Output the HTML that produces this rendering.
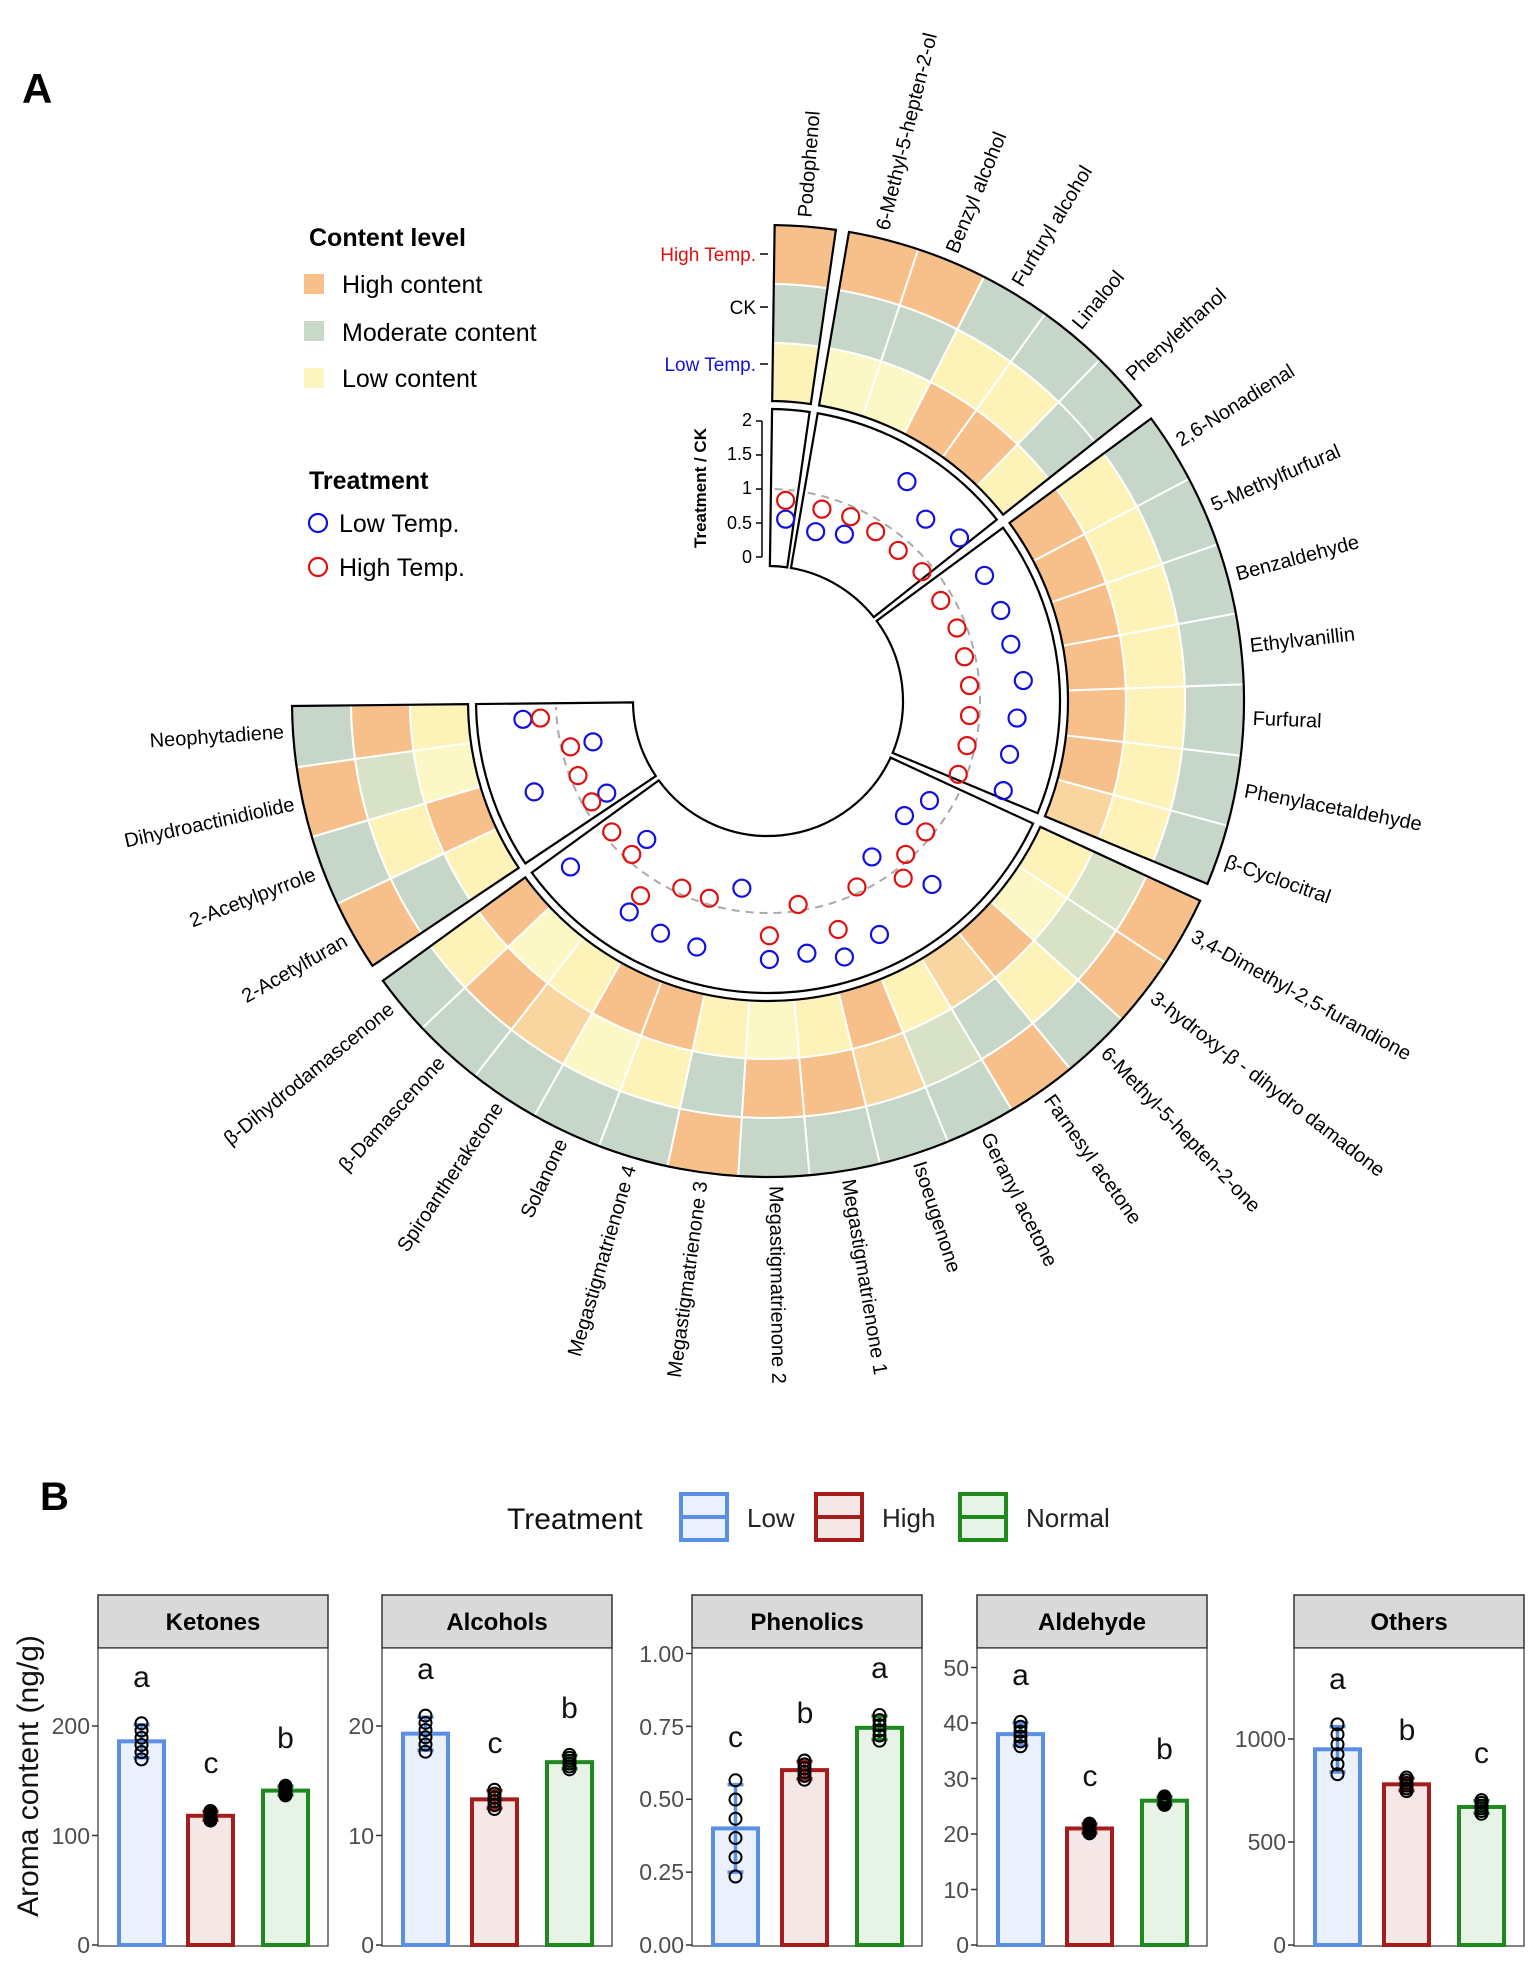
<!DOCTYPE html>
<html><head><meta charset="utf-8"><style>
html,body{margin:0;padding:0;background:#fff;}
svg{display:block;font-family:"Liberation Sans",Arial,sans-serif;}
</style></head><body>
<svg id="s" width="1535" height="1969" viewBox="0 0 1535 1969" xmlns="http://www.w3.org/2000/svg">
<g id="shapes"></g>
<text x="22" y="103" font-size="42" font-weight="bold">A</text>
<text x="309" y="246" font-size="25" font-weight="bold">Content level</text>
<rect x="304" y="274" width="20" height="20" fill="#f7c08a"/>
<rect x="304" y="321" width="20" height="20" fill="#c9d9c9"/>
<rect x="304" y="368" width="20" height="20" fill="#fbf6c0"/>
<text x="342" y="293" font-size="25">High content</text>
<text x="342" y="341" font-size="25">Moderate content</text>
<text x="342" y="387" font-size="25">Low content</text>
<text x="309" y="489" font-size="25" font-weight="bold">Treatment</text>
<circle cx="318" cy="523" r="9" fill="none" stroke="#1010e0" stroke-width="2.2"/>
<circle cx="318" cy="567" r="9" fill="none" stroke="#e01010" stroke-width="2.2"/>
<text x="339" y="532" font-size="25">Low Temp.</text>
<text x="339" y="576" font-size="25">High Temp.</text>
<text x="756" y="261" font-size="19" fill="#e01010" text-anchor="end">High Temp.</text>
<text x="756" y="314" font-size="19" text-anchor="end">CK</text>
<text x="756" y="371" font-size="19" fill="#1010e0" text-anchor="end">Low Temp.</text>
<g font-size="18" text-anchor="end">
<text x="752" y="426">2</text><text x="752" y="460">1.5</text><text x="752" y="494">1</text><text x="752" y="529">0.5</text><text x="752" y="563">0</text>
</g>
<text transform="translate(706,488) rotate(-90)" font-size="17" font-weight="bold" text-anchor="middle">Treatment / CK</text>
<g font-size="20" dominant-baseline="middle">
<text transform="translate(768,701) rotate(-85.5) translate(485,0)">Podophenol</text>
<text transform="translate(768,701) rotate(-76.2) translate(485,0)">6-Methyl-5-hepten-2-ol</text>
<text transform="translate(768,701) rotate(-67.6) translate(485,0)">Benzyl alcohol</text>
<text transform="translate(768,701) rotate(-59) translate(485,0)">Furfuryl alcohol</text>
<text transform="translate(768,701) rotate(-50.4) translate(485,0)">Linalool</text>
<text transform="translate(768,701) rotate(-41.8) translate(485,0)">Phenylethanol</text>
<text transform="translate(768,701) rotate(-32.2) translate(485,0)">2,6-Nonadienal</text>
<text transform="translate(768,701) rotate(-23.6) translate(485,0)">5-Methylfurfural</text>
<text transform="translate(768,701) rotate(-15) translate(485,0)">Benzaldehyde</text>
<text transform="translate(768,701) rotate(-6.4) translate(485,0)">Ethylvanillin</text>
<text transform="translate(768,701) rotate(2.2) translate(485,0)">Furfural</text>
<text transform="translate(768,701) rotate(10.8) translate(485,0)">Phenylacetaldehyde</text>
<text transform="translate(768,701) rotate(19.4) translate(485,0)">β-Cyclocitral</text>
<text transform="translate(768,701) rotate(29) translate(485,0)">3,4-Dimethyl-2,5-furandione</text>
<text transform="translate(768,701) rotate(37.6) translate(485,0)">3-hydroxy-β - dihydro damadone</text>
<text transform="translate(768,701) rotate(46.2) translate(485,0)">6-Methyl-5-hepten-2-one</text>
<text transform="translate(768,701) rotate(54.8) translate(485,0)">Farnesyl acetone</text>
<text transform="translate(768,701) rotate(63.4) translate(485,0)">Geranyl acetone</text>
<text transform="translate(768,701) rotate(72) translate(485,0)">Isoeugenone</text>
<text transform="translate(768,701) rotate(80.6) translate(485,0)">Megastigmatrienone 1</text>
<text transform="translate(768,701) rotate(89.2) translate(485,0)">Megastigmatrienone 2</text>
<text transform="translate(768,701) rotate(-82.2) translate(-485,0)" text-anchor="end">Megastigmatrienone 3</text>
<text transform="translate(768,701) rotate(-73.6) translate(-485,0)" text-anchor="end">Megastigmatrienone 4</text>
<text transform="translate(768,701) rotate(-65) translate(-485,0)" text-anchor="end">Solanone</text>
<text transform="translate(768,701) rotate(-56.4) translate(-485,0)" text-anchor="end">Spiroantheraketone</text>
<text transform="translate(768,701) rotate(-47.8) translate(-485,0)" text-anchor="end">β-Damascenone</text>
<text transform="translate(768,701) rotate(-39.2) translate(-485,0)" text-anchor="end">β-Dihydrodamascenone</text>
<text transform="translate(768,701) rotate(-29.6) translate(-485,0)" text-anchor="end">2-Acetylfuran</text>
<text transform="translate(768,701) rotate(-21) translate(-485,0)" text-anchor="end">2-Acetylpyrrole</text>
<text transform="translate(768,701) rotate(-12.4) translate(-485,0)" text-anchor="end">Dihydroactinidiolide</text>
<text transform="translate(768,701) rotate(-3.8) translate(-485,0)" text-anchor="end">Neophytadiene</text>
</g>
<!-- Panel B -->
<text x="40" y="1510" font-size="40" font-weight="bold">B</text>
<text x="507" y="1529" font-size="30" fill="#111">Treatment</text>
<text x="747" y="1527" font-size="26" fill="#222">Low</text>
<text x="882" y="1527" font-size="26" fill="#222">High</text>
<text x="1026" y="1527" font-size="26" fill="#222">Normal</text>
<g font-size="24" font-weight="bold" text-anchor="middle">
<text x="213" y="1630">Ketones</text><text x="497" y="1630">Alcohols</text><text x="807" y="1630">Phenolics</text><text x="1092" y="1630">Aldehyde</text><text x="1409" y="1630">Others</text>
</g>
<g font-size="23" fill="#4d4d4d" text-anchor="end">
<text x="90" y="1953">0</text><text x="90" y="1844">100</text><text x="90" y="1734">200</text>
<text x="374" y="1953">0</text><text x="374" y="1844">10</text><text x="374" y="1734">20</text>
<text x="684" y="1953">0.00</text><text x="684" y="1880">0.25</text><text x="684" y="1807">0.50</text><text x="684" y="1735">0.75</text><text x="684" y="1662">1.00</text>
<text x="969" y="1953">0</text><text x="969" y="1898">10</text><text x="969" y="1842">20</text><text x="969" y="1787">30</text><text x="969" y="1731">40</text><text x="969" y="1676">50</text>
<text x="1286" y="1953">0</text><text x="1286" y="1850">500</text><text x="1286" y="1747">1000</text>
</g>
<text transform="translate(38,1776) rotate(-90)" font-size="30" fill="#111" text-anchor="middle">Aroma content (ng/g)</text>
<g font-size="30" text-anchor="middle" fill="#111">
<text x="141.5" y="1687">a</text><text x="211" y="1773">c</text><text x="285.5" y="1748">b</text>
<text x="425.5" y="1679">a</text><text x="495" y="1753">c</text><text x="569.5" y="1718">b</text>
<text x="735.5" y="1747">c</text><text x="805" y="1723">b</text><text x="879.5" y="1678">a</text>
<text x="1020.5" y="1685">a</text><text x="1090" y="1786">c</text><text x="1164.5" y="1759">b</text>
<text x="1337.5" y="1689">a</text><text x="1407" y="1740">b</text><text x="1481.5" y="1763">c</text>
</g>
</svg>
<script>
(function(){
var NS="http://www.w3.org/2000/svg",g=document.getElementById("shapes");
function el(t,a){var e=document.createElementNS(NS,t);for(var k in a)e.setAttribute(k,a[k]);g.appendChild(e);return e;}
var cx=768,cy=701;
function P(r,a){a=a*Math.PI/180;return [cx+r*Math.sin(a),cy-r*Math.cos(a)];}
function sec(r1,r2,a1,a2){var p1=P(r2,a1),p2=P(r2,a2),p3=P(r1,a2),p4=P(r1,a1);var l=(a2-a1)>180?1:0;
return "M"+p1+" A"+r2+","+r2+" 0 "+l+" 1 "+p2+" L"+p3+" A"+r1+","+r1+" 0 "+l+" 0 "+p4+" Z";}
var C={O:"#f7c08a",o:"#f9d59f",G:"#c6d7c9",g:"#d8e2c6",Y:"#fdf3b8",y:"#fbf8c6"};
var secs=[[0.8,1,["OGY"]],[9.8,5,["OGy","OGy","GYO","GYO","GGY"]],[53.6,7,["GYO","GYO","GYO","GYO","GYO","GYO","GYo"]],
[114.8,14,["OgY","Ogy","GYO","OGo","GgY","GoO","GOY","GOy","OGY","GYO","GyO","GoY","GOy","GYO"]],[236.2,4,["OGY","GYO","Ogy","GOY"]]];
var W=8.6,gap=1.2;
secs.forEach(function(s){var a0=s[0],n=s[1],d=s[2],a1=a0+n*W-gap;
 for(var i=0;i<n;i++){var b1=a0+i*W,b2=b1+W;if(i==n-1)b2=a1;var str=d[i]||d[0];
  var rings=[[417,476,str[0]],[358,417,str[1]],[300,358,str[2]]];
  rings.forEach(function(q){el("path",{d:sec(q[0],q[1],b1,b2),fill:C[q[2]],stroke:"#fff","stroke-width":2});});}
 el("path",{d:sec(300,476,a0,a1),fill:"none",stroke:"#000","stroke-width":2.2});
 el("path",{d:sec(135,292,a0,a1),fill:"none",stroke:"#000","stroke-width":2.2});
 var p1=P(212,a0+1),p2=P(212,a1-1);
 el("path",{d:"M"+p1+" A212,212 0 "+((a1-a0)>180?1:0)+" 1 "+p2,fill:"none",stroke:"#aaa","stroke-width":2,"stroke-dasharray":"8,6"});
});
el("line",{x1:762,y1:421,x2:762,y2:557,stroke:"#000","stroke-width":1.5});
[421,455,489,523,557].forEach(function(y){el("line",{x1:756,y1:y,x2:762,y2:y,stroke:"#000","stroke-width":1.5});});
[254,307,364].forEach(function(y){el("line",{x1:760,y1:y,x2:768,y2:y,stroke:"#000","stroke-width":1.5});});
var f=1.251;
var blue=[[628,415],[652,425],[675,427],[725,385],[740,415],[767,430],[787,460],[800,488],[808,515],[818,544],[813,574],[807,603],[802,632],[743,640],[723,652],[745,707],[697,685],[703,747],[675,765],[645,762],[615,767],[593,710],[557,757],[528,746],[503,729],[456,693],[517,671],[485,634],[474,593],[427,633],[418,575]];
var red=[[628,400],[657,407],[680,413],[700,425],[718,440],[737,457],[752,480],[765,502],[771,525],[775,548],[775,572],[773,596],[766,619],[740,665],[724,683],[722,702],[685,709],[670,743],[638,723],[615,748],[567,718],[545,710],[512,716],[505,683],[489,665],[473,641],[462,620],[456,597],[432,574]];
blue.forEach(function(p){el("circle",{cx:p[0]*f,cy:p[1]*f,r:8.5,fill:"none",stroke:"#1010e0","stroke-width":2.2});});
red.forEach(function(p){el("circle",{cx:p[0]*f,cy:p[1]*f,r:8.5,fill:"none",stroke:"#e01010","stroke-width":2.2});});
var cols=[["#5b8fe6","#eaf1fc"],["#a51c1c","#f6e7e7"],["#1e8a1e","#e7f3e7"]];
[679,814,958].forEach(function(x,i){el("rect",{x:x+2,y:1494,width:46,height:46,fill:cols[i][1],stroke:cols[i][0],"stroke-width":4});
 el("line",{x1:x+2,y1:1517,x2:x+48,y2:1517,stroke:cols[i][0],"stroke-width":4});});
var X=[98,382,692,977,1294],sc=[1.095,10.95,291.5,5.55,0.206];
var V=[[[186,15],[118,4],[141,4]],[[19.3,1.5],[13.3,0.8],[16.7,0.6]],[[0.40,0.15],[0.60,0.03],[0.745,0.04]],[[38,2],[21,0.8],[26,0.7]],[[950,110],[780,30],[670,30]]];
var ticks=[[0,100,200],[0,10,20],[0,.25,.5,.75,1],[0,10,20,30,40,50],[0,500,1000]];
var off=[21,90,165],Y0=1945;
X.forEach(function(x,k){
 el("rect",{x:x,y:1595,width:230,height:53,fill:"#d9d9d9",stroke:"#333","stroke-width":1.5});
 el("rect",{x:x,y:1648,width:230,height:298,fill:"#fff",stroke:"#333","stroke-width":1.2});
 ticks[k].forEach(function(t){var y=Y0-t*sc[k];el("line",{x1:x-6,y1:y,x2:x,y2:y,stroke:"#333","stroke-width":1.5});});
 V[k].forEach(function(v,i){var bx=x+off[i],top=Y0-v[0]*sc[k],c=cols[i];
  el("rect",{x:bx,y:top,width:45,height:Y0-top,fill:c[1],stroke:c[0],"stroke-width":4});
  var e1=Y0-(v[0]+v[1])*sc[k],e2=Y0-(v[0]-v[1])*sc[k],mx=bx+22.5;
  el("line",{x1:mx,y1:e1,x2:mx,y2:e2,stroke:c[0],"stroke-width":3.5});
  el("line",{x1:mx-8,y1:e1,x2:mx+8,y2:e1,stroke:c[0],"stroke-width":3.5});
  el("line",{x1:mx-8,y1:e2,x2:mx+8,y2:e2,stroke:c[0],"stroke-width":3.5});
  for(var j=0;j<6;j++){var vv=v[0]+v[1]*(-1.1+j*0.44);
   el("circle",{cx:mx,cy:Y0-vv*sc[k],r:6,fill:"none",stroke:"#000","stroke-width":2});}
 });
});
})();
</script>
</body></html>
